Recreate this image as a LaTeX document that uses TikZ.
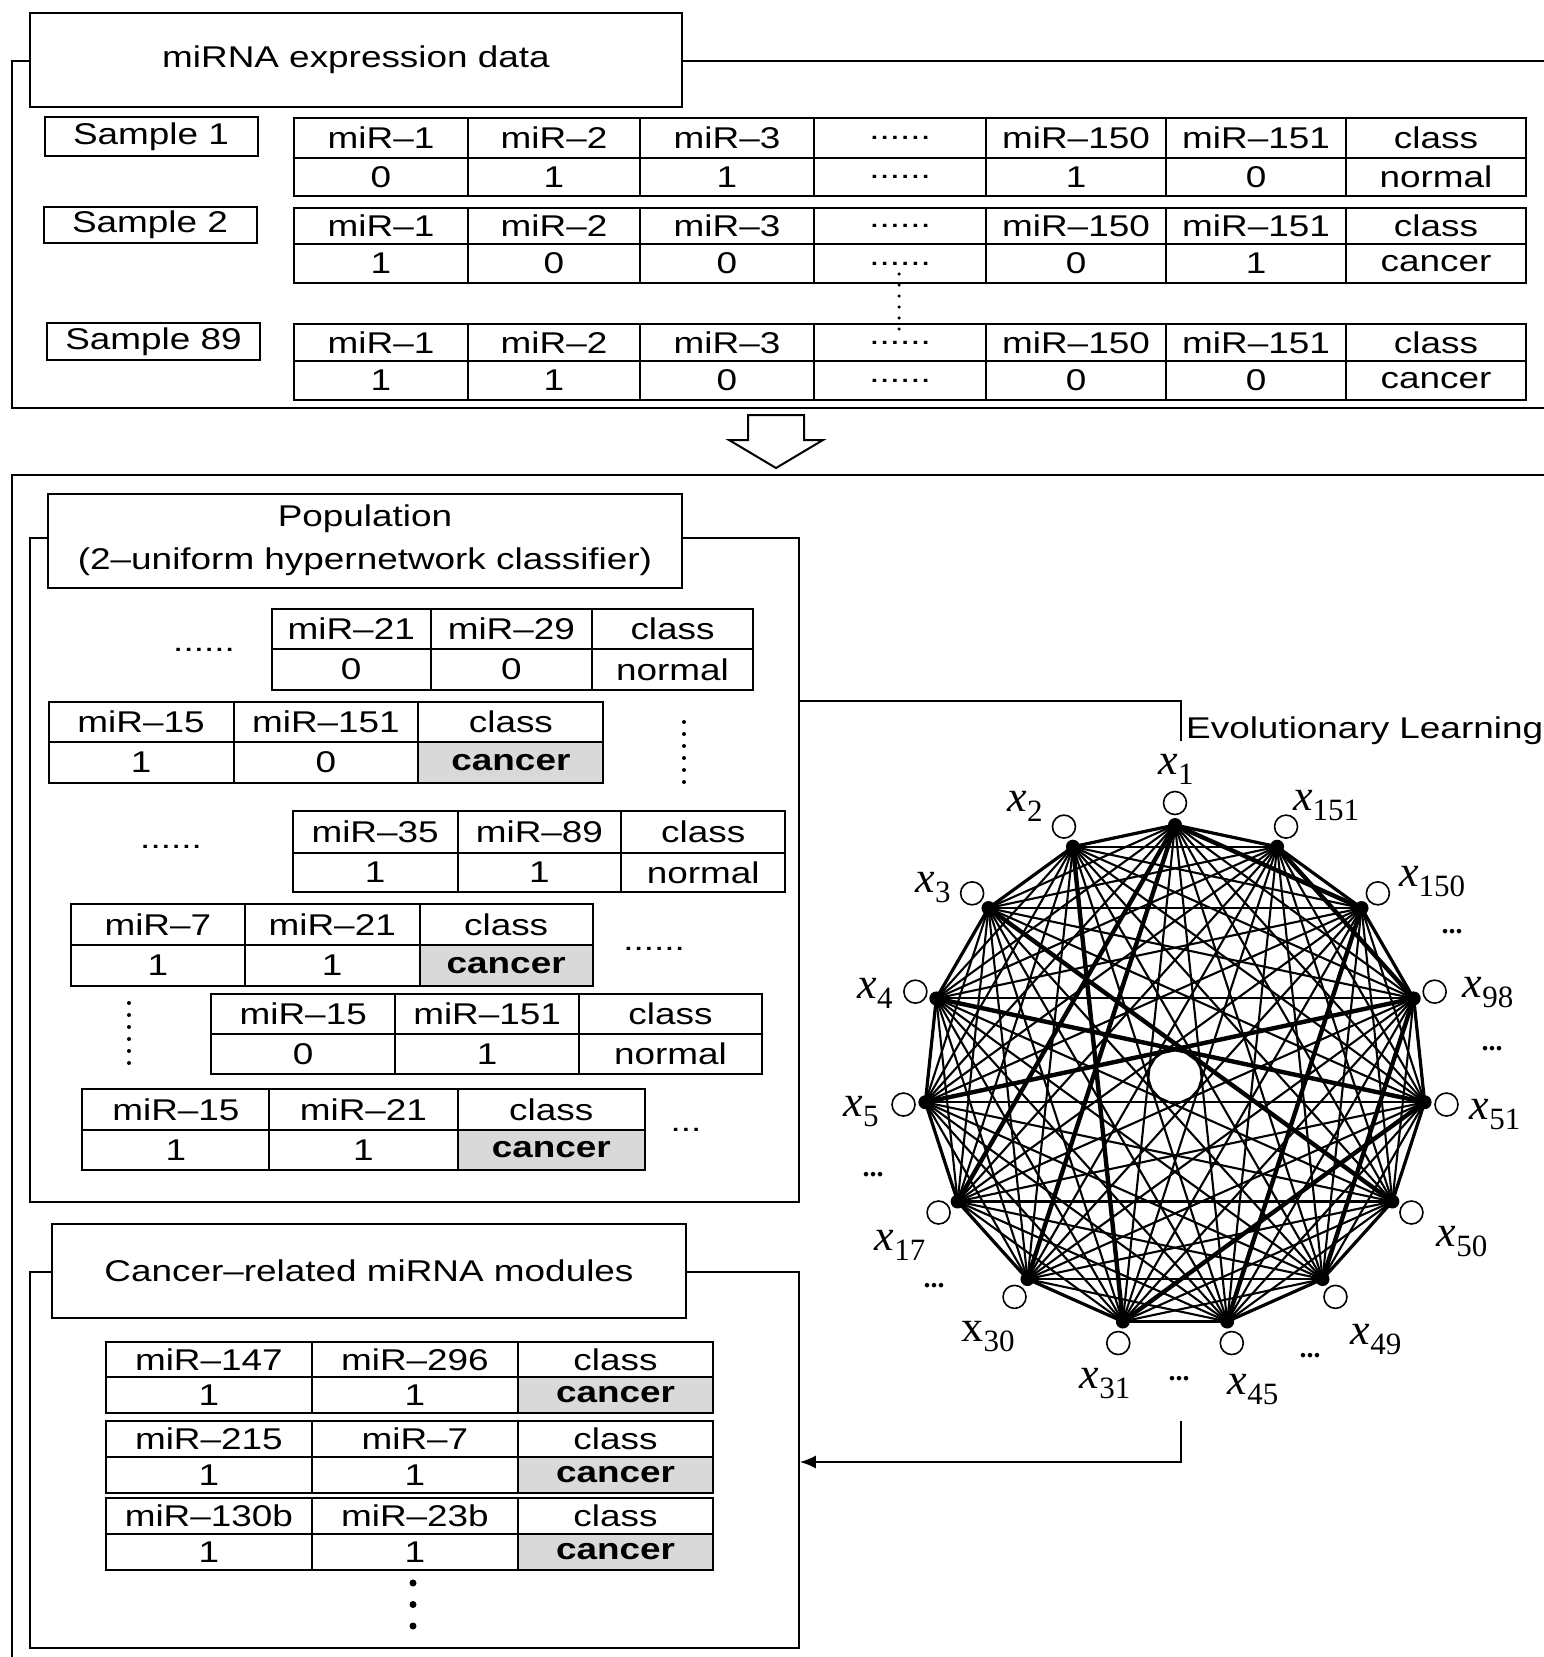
\documentclass[tikz,border=0pt]{standalone}
\usepackage{fontspec}
\setmainfont{Liberation Sans}[FakeStretch=1.23]
\newfontfamily\netfont{Liberation Serif}
\usetikzlibrary{arrows.meta,positioning}

% one two-row table: name, top, middle, bottom, cells left/right/head/value/fill
\newcommand{\mirtable}[5]{%
  \foreach \l/\r/\hd/\vl/\fc [count=\i] in {#5} {
    \node[cell, minimum width=\r-\l, minimum height=#3-#2, anchor=north west]
      (#1-h\i) at (\l,#2) {\hd};
    \node[cell, fill=\fc, minimum width=\r-\l, minimum height=#4-#3, anchor=north west]
      (#1-v\i) at (\l,#3) {\vl};
  }%
}
\newcommand{\sixdots}{......}
\newcommand{\xlab}[2][\itshape]{{\netfont\fontsize{44}{44}\selectfont#1x}%
  \raisebox{-10pt}{\netfont\fontsize{31}{31}\selectfont#2}}

\begin{document}
\begin{tikzpicture}[
  x=1pt, y=-1pt,
  font=\fontsize{30}{36}\selectfont,
  >=Latex,
  frame/.style={draw, line width=2pt, inner sep=0pt},
  titlebox/.style={draw, line width=2pt, fill=white, minimum width=634pt,
    minimum height=94pt, inner sep=0pt, align=center},
  samplebox/.style={draw, line width=2pt, minimum width=213pt, inner sep=0pt},
  cell/.style={draw, line width=2pt, inner sep=0pt},
  vdots/.style={line width=4pt, line cap=round, dash pattern=on 0pt off 12pt},
  link/.style={line width=2pt},
  chord/.style={line width=2.1pt},
  rim/.style={line width=3.2pt},
  strong/.style={line width=4.4pt},
  hole/.style={circle, draw, fill=white, line width=1.6pt, minimum size=23pt, inner sep=0pt},
  xname/.style={inner sep=0pt},
  more/.style={font=\netfont\bfseries\fontsize{28}{28}\selectfont, inner sep=0pt}
]
\useasboundingbox (0,0) rectangle (1544,1657);

% expression data
\node[frame, minimum width=1560pt, minimum height=347pt, anchor=north west] (dataframe) at (10.6,60) {};
\node[titlebox, minimum width=652pt] (datatitle) at (356,60) {miRNA expression data};

\node[samplebox, minimum height=39pt] (s1) at (151,136.5) {Sample 1};
\node[samplebox, minimum height=36pt] (s2) at (150,225) {Sample 2};
\node[samplebox, minimum height=37pt] (s89) at (153.5,341.5) {Sample 89};

\mirtable{ta}{117}{157}{195}{293/467/miR--1/0/white, 467/639/miR--2/1/white,
  639/813/miR--3/1/white, 813/985/\sixdots/\sixdots/white, 985/1165/miR--150/1/white,
  1165/1345/miR--151/0/white, 1345/1525/class/normal/white}
\mirtable{tb}{207}{243}{282}{293/467/miR--1/1/white, 467/639/miR--2/0/white,
  639/813/miR--3/0/white, 813/985/\sixdots/\sixdots/white, 985/1165/miR--150/0/white,
  1165/1345/miR--151/1/white, 1345/1525/class/cancer/white}
\mirtable{tc}{323}{360}{399}{293/467/miR--1/1/white, 467/639/miR--2/1/white,
  639/813/miR--3/0/white, 813/985/\sixdots/\sixdots/white, 985/1165/miR--150/0/white,
  1165/1345/miR--151/0/white, 1345/1525/class/cancer/white}
\draw[vdots, line width=3.5pt, dash pattern=on 0pt off 11pt] (899,274) -- (899,336);

% hollow arrow
\draw[link, fill=white] (748,415) -- (804,415) -- (804,440) -- (823,440)
  -- (776,468) -- (729,440) -- (748,440) -- cycle;

\node[frame, minimum width=1560pt, minimum height=1200pt, anchor=north west] (mainframe) at (10.6,474) {};

% population
\node[frame, minimum width=769pt, minimum height=664pt, anchor=north west] (popframe) at (28.5,537) {};
\node[titlebox] (poptitle) at (365,540.5) {Population\\[7pt](2--uniform hypernetwork classifier)};

\mirtable{pa}{608}{648}{689}{270.5/430/miR--21/0/white, 430/590.7/miR--29/0/white,
  590.7/752.4/class/normal/white}
\mirtable{pb}{701}{741}{782}{47.6/232.5/miR--15/1/white, 232.5/417.4/miR--151/0/white,
  417.4/602.4/class/\textbf{cancer}/black!15}
\mirtable{pc}{810}{852}{891}{291.7/456.5/miR--35/1/white, 456.5/620.3/miR--89/1/white,
  620.3/784.1/class/normal/white}
\mirtable{pd}{903}{944}{985}{69.7/244/miR--7/1/white, 244/418.5/miR--21/1/white,
  418.5/591.8/class/\textbf{cancer}/black!15}
\mirtable{pe}{993}{1033}{1073}{210.3/394.2/miR--15/0/white, 394.2/578/miR--151/1/white,
  578/761/class/normal/white}
\mirtable{pf}{1088}{1129}{1169}{81.4/268.4/miR--15/1/white, 268.4/456.5/miR--21/1/white,
  456.5/644/class/\textbf{cancer}/black!15}

\node[inner sep=0pt] (popmore1) at (204,650) {\sixdots};
\node[inner sep=0pt] (popmore2) at (171,847) {\sixdots};
\node[inner sep=0pt] (popmore3) at (654,949) {\sixdots};
\node[inner sep=0pt] (popmore4) at (686,1130) {...};
\draw[vdots] (684,722) -- (684,782);
\draw[vdots] (129,1003) -- (129,1067);

% modules
\node[frame, minimum width=769pt, minimum height=376pt, anchor=north west] (modframe) at (28.8,1271) {};
\node[titlebox] (modtitle) at (369,1271) {Cancer--related miRNA modules};

\mirtable{ma}{1341}{1376}{1412}{104.6/311.2/miR--147/1/white, 311.2/516.7/miR--296/1/white,
  516.7/712.3/class/\textbf{cancer}/black!15}
\mirtable{mb}{1420}{1456}{1492}{104.6/311.2/miR--215/1/white, 311.2/516.7/miR--7/1/white,
  516.7/712.3/class/\textbf{cancer}/black!15}
\mirtable{mc}{1497}{1533}{1569}{104.6/311.2/miR--130b/1/white, 311.2/516.7/miR--23b/1/white,
  516.7/712.3/class/\textbf{cancer}/black!15}
\draw[vdots, line width=7pt, dash pattern=on 0pt off 21.5pt] (413,1583) -- (413,1626);

% evolutionary learning loop
\coordinate (evotop) at (1181,701);
\coordinate (evoend) at (1181,741);
\draw[link] (popframe.east |- evotop) -- (evotop) -- (evoend);
\node[anchor=base west, inner sep=0pt] (evo) at (1186,738) {Evolutionary Learning};

\coordinate (backtop) at (1181,1421);
\coordinate (backturn) at (1181,1462);
\draw[link, -{Latex[length=16pt, width=13pt]}] (backtop) -- (backturn) -- (backturn -| modframe.east);

% hypernetwork
\begin{scope}[shift={(1175,1076)}]
  \foreach \k in {0,...,14} {
    \coordinate (v\k) at (24*\k-90:251);
  }
  \foreach \i in {0,...,13} {
    \pgfmathtruncatemacro\s{\i+1}
    \foreach \j in {\s,...,14} \draw[chord] (v\i) -- (v\j);
  }
  \foreach \i [evaluate=\i as \j using {int(mod(\i+1,15))}] in {0,...,14}
    \draw[rim] (v\i) -- (v\j);
  \foreach \i/\j in {0/2,1/3,12/4,11/3,0/10,14/8,0/9,2/7,3/6,4/8,13/5}
    \draw[strong] (v\i) -- (v\j);
  \foreach \k in {0,...,14} {
    \fill (v\k) circle (7pt);
    \node[hole] (n\k) at (24*\k-90:273) {};
  }
\end{scope}

\node[xname] (l0) at (1176,769) {\xlab{1}};
\node[xname] (l1) at (1326,806) {\xlab{151}};
\node[xname] (l2) at (1432,882) {\xlab{150}};
\node[xname] (l3) at (1488,993) {\xlab{98}};
\node[xname] (l4) at (1495,1115) {\xlab{51}};
\node[xname] (l5) at (1462,1242) {\xlab{50}};
\node[xname] (l6) at (1376,1340) {\xlab{49}};
\node[xname] (l7) at (1253,1390) {\xlab{45}};
\node[xname] (l8) at (1105,1384) {\xlab{31}};
\node[xname] (l9) at (988,1337) {\xlab[\upshape]{30}};
\node[xname] (l10) at (900,1245) {\xlab{17}};
\node[xname] (l11) at (861,1112) {\xlab{5}};
\node[xname] (l12) at (875,993) {\xlab{4}};
\node[xname] (l13) at (933,888) {\xlab{3}};
\node[xname] (l14) at (1025,806) {\xlab{2}};

\node[more] (gap1) at (1452,932) {...};
\node[more] (gap2) at (1492,1049) {...};
\node[more] (gap3) at (873,1175) {...};
\node[more] (gap4) at (934,1286) {...};
\node[more] (gap5) at (1310,1356) {...};
\node[more] (gap6) at (1179,1379) {...};
\end{tikzpicture}
\end{document}
